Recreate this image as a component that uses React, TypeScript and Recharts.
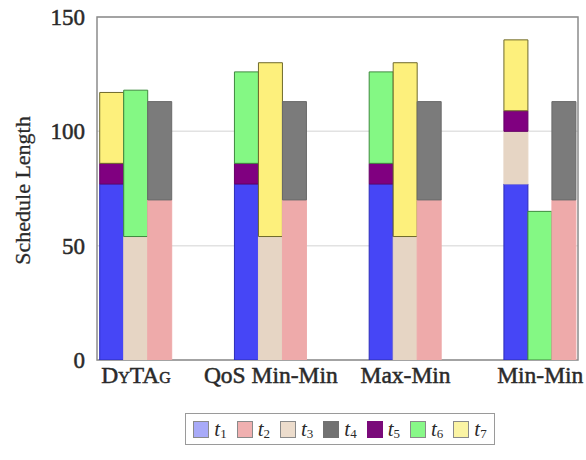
import { BarChart, Bar, XAxis, YAxis, CartesianGrid, ReferenceArea, Legend } from 'recharts';

const methods = ['DyTAg', 'QoS Min-Min', 'Max-Min', 'Min-Min'];
const yTicks = [0, 50, 100, 150];
const taskNames = ['1', '2', '3', '4', '5', '6', '7'];

// first processor bar (bottom to top: t1, t3, t5, t6, t7)
const p1t1 = [77, 77, 77, 77];
const p1t3 = [0, 0, 0, 23];
const p1t5 = [9, 9, 9, 9];
const p1t6 = [0, 40, 40, 0];
const p1t7 = [31, 0, 0, 31];
// second processor bar (t3, t6, t7)
const p2t3 = [54, 54, 54, 0];
const p2t6 = [64, 0, 0, 65];
const p2t7 = [0, 76, 76, 0];
// third processor bar (t2, t4)
const p3t2 = [70, 70, 70, 70];
const p3t4 = [43, 43, 43, 43];

const fills: Record<string, string> = {
  '1': '#4646f6',
  '2': '#eeaaaa',
  '3': '#e6d5c4',
  '4': '#7b7b7b',
  '5': '#800080',
  '6': '#84f884',
  '7': '#fdf07c',
};
const strokes: Record<string, string> = {
  '1': '#2c2cb8',
  '2': '#eeaaaa',
  '3': '#e6d5c4',
  '4': '#6a6a6a',
  '5': '#650065',
  '6': '#3f8a3f',
  '7': '#6f6a2c',
};
const legendFills: Record<string, string> = {
  '1': '#a8aaf8',
  '2': '#f0b0b0',
  '3': '#ecdccc',
  '4': '#727272',
  '5': '#7a0a7a',
  '6': '#88f888',
  '7': '#fbf4a4',
};

const data = methods.map((m, i) => ({
  x: i + 1,
  name: m,
  p1t1: p1t1[i], p1t3: p1t3[i], p1t5: p1t5[i], p1t6: p1t6[i], p1t7: p1t7[i],
  p2t3: p2t3[i], p2t6: p2t6[i], p2t7: p2t7[i],
  p3t2: p3t2[i], p3t4: p3t4[i],
}));

const series = [
  { key: 'p1t1', stack: 'p1', task: '1' },
  { key: 'p1t3', stack: 'p1', task: '3' },
  { key: 'p1t5', stack: 'p1', task: '5' },
  { key: 'p1t6', stack: 'p1', task: '6' },
  { key: 'p1t7', stack: 'p1', task: '7' },
  { key: 'p2t3', stack: 'p2', task: '3' },
  { key: 'p2t6', stack: 'p2', task: '6' },
  { key: 'p2t7', stack: 'p2', task: '7' },
  { key: 'p3t2', stack: 'p3', task: '2' },
  { key: 'p3t4', stack: 'p3', task: '4' },
];

const xDomain = [0.71, 4.28];
const font = '"Liberation Serif", "DejaVu Serif", serif';
const ink = '#2a2a2a';

const XTick = (props: any) => {
  const { x, y, payload } = props;
  const label = methods[payload.value - 1];
  return (
    <text
      x={x}
      y={y + 23}
      textAnchor="middle"
      fontFamily={font}
      fontSize={23.5}
      fill={ink}
      stroke={ink}
      strokeWidth={0.5}
      style={{ fontVariant: label === 'DyTAg' ? 'small-caps' : 'normal' }}
    >
      {label}
    </text>
  );
};

const YLabel = (props: any) => {
  const { viewBox } = props;
  const cx = viewBox.x + 22;
  const cy = viewBox.y + viewBox.height / 2 + 2;
  return (
    <text
      x={cx}
      y={cy}
      transform={`rotate(-90, ${cx}, ${cy})`}
      textAnchor="middle"
      dominantBaseline="central"
      fontFamily={font}
      fontSize={22}
      fill={ink}
      stroke={ink}
      strokeWidth={0.3}
    >
      Schedule Length
    </text>
  );
};

const LegendBox = () => (
  <div
    style={{
      boxSizing: 'border-box',
      height: 32,
      border: '1px solid #9a9a9a',
      display: 'flex',
      alignItems: 'center',
      justifyContent: 'center',
      gap: 10,
      fontFamily: font,
      background: '#fff',
    }}
  >
    {taskNames.map((t) => (
      <div key={t} style={{ display: 'flex', alignItems: 'center' }}>
        <span
          style={{
            display: 'inline-block',
            width: 16,
            height: 17,
            boxSizing: 'border-box',
            background: legendFills[t],
            border: `1px solid ${t === '5' || t === '4' ? legendFills[t] : '#8a8a8a'}`,
            marginRight: 5,
          }}
        />
        <span style={{ fontStyle: 'italic', fontSize: 21, color: ink }}>t</span>
        <span style={{ fontSize: 13, color: ink, position: 'relative', top: 5 }}>{t}</span>
      </div>
    ))}
  </div>
);

export default function App() {
  return (
    <div style={{ position: 'absolute', left: 0, top: 0, background: '#fff' }}>
      <BarChart
        width={586}
        height={460}
        data={data}
        margin={{ top: 17, right: 8, left: 0, bottom: 15 }}
        barSize={24}
        barGap={0}
      >
        <CartesianGrid vertical={false} stroke="#e2e2e2" strokeWidth={1.5} />
        <XAxis
          dataKey="x"
          type="number"
          domain={xDomain}
          allowDataOverflow
          ticks={[1, 2, 3, 4]}
          interval={0}
          height={53}
          axisLine={false}
          tickLine={false}
          tickSize={0}
          tickMargin={0}
          tick={<XTick />}
        />
        <YAxis
          type="number"
          domain={[0, 150]}
          allowDataOverflow
          ticks={yTicks}
          width={97}
          axisLine={false}
          tickLine={false}
          tickSize={0}
          tickMargin={12}
          tick={{ fontFamily: font, fontSize: 23, fill: ink, stroke: ink, strokeWidth: 0.5 }}
          label={{ content: <YLabel /> }}
        />
        {series.map((s) => (
          <Bar
            key={s.key}
            dataKey={s.key}
            stackId={s.stack}
            fill={fills[s.task]}
            stroke={strokes[s.task]}
            strokeWidth={1}
            isAnimationActive={false}
          />
        ))}
        <ReferenceArea
          x1={xDomain[0]}
          x2={xDomain[1]}
          y1={0}
          y2={150}
          fill="none"
          stroke="#8c8c8c"
          strokeWidth={1.5}
          ifOverflow="visible"
        />
        <Legend
          verticalAlign="bottom"
          content={<LegendBox />}
          wrapperStyle={{ left: 185, width: 310 }}
        />
      </BarChart>
    </div>
  );
}
